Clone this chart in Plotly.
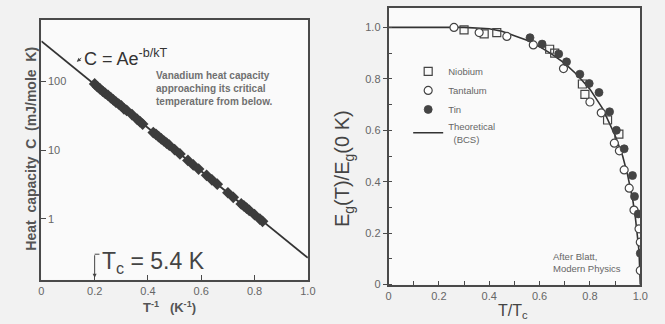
import math
import plotly.graph_objects as go

# ---------------- data: left panel (vanadium heat capacity) ----------------
inv_T = [0.20, 0.21, 0.22, 0.23, 0.24, 0.25, 0.26, 0.27, 0.28, 0.29, 0.30, 0.31,
         0.32, 0.34, 0.36, 0.37, 0.38, 0.42, 0.43, 0.44, 0.45, 0.46, 0.47, 0.48,
         0.50, 0.52, 0.55, 0.57, 0.59, 0.62, 0.64, 0.66, 0.70, 0.72, 0.75, 0.76,
         0.77, 0.78, 0.80, 0.82, 0.83]
heat_cap = [92, 84, 78, 72, 67, 63, 58, 54, 50, 47, 44, 40,
            38, 33, 28, 26, 24, 18, 17, 15.7, 14.6, 13.6, 12.7, 11.8,
            10.2, 8.8, 7.1, 6.1, 5.3, 4.3, 3.7, 3.2, 2.4, 2.06, 1.65, 1.54,
            1.43, 1.33, 1.15, 0.99, 0.92]
fit_x = [0.0, 1.0]
fit_y = [385, 0.27]

# ---------------- data: right panel (energy gap) ----------------
nb_x = [0.30, 0.38, 0.43, 0.64, 0.66, 0.77, 0.78, 0.87, 0.915]
nb_y = [0.99, 0.975, 0.98, 0.915, 0.90, 0.78, 0.74, 0.64, 0.585]

ta_x = [0.26, 0.36, 0.47, 0.575, 0.695, 0.80, 0.845, 0.897, 0.917, 0.936,
        0.956, 0.975, 0.995, 1.0, 1.0]
ta_y = [1.0, 0.98, 0.965, 0.932, 0.84, 0.71, 0.668, 0.55, 0.52, 0.446,
        0.375, 0.29, 0.217, 0.165, 0.055]

sn_x = [0.562, 0.61, 0.676, 0.707, 0.76, 0.797, 0.836, 0.878, 0.905, 0.936,
        0.969, 0.977, 0.992, 1.0]
sn_y = [0.96, 0.935, 0.897, 0.866, 0.818, 0.782, 0.747, 0.672, 0.60, 0.528,
        0.424, 0.343, 0.275, 0.122]

bcs_x = [0.0, 0.3, 0.4, 0.45, 0.5, 0.55, 0.6, 0.65, 0.7, 0.75, 0.8, 0.85,
         0.9, 0.93, 0.95, 0.97, 0.98, 0.99, 0.995, 1.0]
bcs_y = [1.0, 1.0, 0.995, 0.985, 0.968, 0.95, 0.925, 0.895, 0.86, 0.815,
         0.76, 0.685, 0.58, 0.5, 0.425, 0.33, 0.265, 0.185, 0.13, 0.0]

x_ticks = [0, 0.2, 0.4, 0.6, 0.8, 1.0]
x_tick_text = ["0", "0.2", "0.4", "0.6", "0.8", "1.0"]
hc_ticks = [1, 10, 100]
hc_tick_text = ["1", "10", "100"]
gap_ticks = [0, 0.2, 0.4, 0.6, 0.8, 1.0]
gap_tick_text = ["0", "0.2", "0.4", "0.6", "0.8", "1.0"]

W, H = 665, 324
def X(px):
    return px / W
def Y(py):
    return 1 - py / H

FONT = "Liberation Sans, Arial, sans-serif"
AX = "#4a4a4a"
TXT = "#666666"
MK = "#3c3c3c"

fig = go.Figure()

# left panel
fig.add_trace(go.Scatter(x=fit_x, y=fit_y, mode="lines", xaxis="x", yaxis="y",
                         line=dict(color="#333333", width=1.8), showlegend=False))
fig.add_trace(go.Scatter(x=inv_T, y=heat_cap, mode="markers", xaxis="x", yaxis="y",
                         marker=dict(symbol="diamond", size=9, color=MK,
                                     line=dict(width=0)), showlegend=False))

# right panel (line first so the markers sit on top)
fig.add_trace(go.Scatter(x=bcs_x, y=bcs_y, mode="lines", xaxis="x2", yaxis="y2",
                         name="Theoretical<br>  (BCS)", legendrank=4,
                         line=dict(color="#333333", width=1.6)))
fig.add_trace(go.Scatter(x=nb_x, y=nb_y, mode="markers", xaxis="x2", yaxis="y2",
                         name="Niobium", legendrank=1,
                         marker=dict(symbol="square-open", size=8, color="#444444",
                                     line=dict(width=1.2))))
fig.add_trace(go.Scatter(x=ta_x, y=ta_y, mode="markers", xaxis="x2", yaxis="y2",
                         name="Tantalum", legendrank=2,
                         marker=dict(symbol="circle", size=8, color="white",
                                     line=dict(width=1.2, color="#444444"))))
fig.add_trace(go.Scatter(x=sn_x, y=sn_y, mode="markers", xaxis="x2", yaxis="y2",
                         name="Tin", legendrank=3,
                         marker=dict(symbol="circle", size=8, color="#444444",
                                     line=dict(width=0.8, color="#444444"))))

axis_common = dict(showline=True, linecolor=AX, linewidth=1.6, mirror=True,
                   showgrid=False, zeroline=False,
                   tickfont=dict(family=FONT, size=11, color=TXT),
                   tickcolor=AX)

fig.update_layout(
    width=W, height=H,
    margin=dict(l=0, r=0, t=0, b=0),
    paper_bgcolor="#f2f2f2",
    plot_bgcolor="#fafafa",
    font=dict(family=FONT, color="#444444"),
    xaxis=dict(domain=[X(39), X(310)], range=[0, 1], anchor="y",
               tickvals=x_ticks, ticktext=x_tick_text,
               ticks="inside", ticklen=5, tickwidth=1.2, **axis_common),
    yaxis=dict(domain=[Y(285), Y(20)], type="log", range=[-0.886, 2.9], anchor="x",
               tickvals=hc_ticks, showticklabels=False,
               ticks="inside", ticklen=5, tickwidth=1.2, **axis_common),
    xaxis2=dict(domain=[X(392), X(648)], range=[0, 1], anchor="y2",
                tickvals=x_ticks, ticktext=x_tick_text,
                ticks="inside", ticklen=4, tickwidth=1.2,
                minor=dict(dtick=0.1, tick0=0, ticks="inside", ticklen=4,
                           tickcolor=AX, tickwidth=1),
                **axis_common),
    yaxis2=dict(domain=[Y(290), Y(8)], range=[0, 1.076], anchor="x2",
                tickvals=gap_ticks, ticktext=gap_tick_text,
                ticks="outside", ticklen=4, tickwidth=1.2,
                minor=dict(dtick=0.1, tick0=0, ticks="inside", ticklen=4,
                           tickcolor=AX, tickwidth=1),
                **axis_common),
    legend=dict(x=X(412), y=Y(58), xanchor="left", yanchor="top",
                bgcolor="rgba(0,0,0,0)", borderwidth=0,
                font=dict(family=FONT, size=9.5, color="#666666"),
                itemwidth=30, tracegroupgap=0),
)

def note(px, py, text, size, color, xanchor="left", angle=0, align="left"):
    return dict(x=X(px), y=Y(py), xref="paper", yref="paper",
                xanchor=xanchor, yanchor="middle", align=align,
                textangle=angle, text=text, showarrow=False,
                font=dict(family=FONT, size=size, color=color))

ann = []
# left y tick labels (drawn inside the frame, as in the original)
for v, t in zip(hc_ticks, hc_tick_text):
    ann.append(dict(x=X(44), y=math.log10(v), xref="paper", yref="y",
                    xanchor="left", yanchor="middle", text=t, showarrow=False,
                    font=dict(family=FONT, size=11, color=TXT)))
# left titles
ann.append(note(29, 152, "<b>Heat  capacity  C  (mJ/mole  K)</b>", 14, "#555555",
                xanchor="center", angle=-90))
ann.append(note(169, 313, "<b>T<sup>-1</sup>   (K<sup>-1</sup>)</b>", 13, "#555555",
                xanchor="center"))
# formula
ann.append(note(80, 59, "C = Ae<sup>-b/kT</sup>", 18, "#333333"))
ann.append(dict(x=X(75), y=Y(63), xref="paper", yref="paper", text="",
                showarrow=True, ax=6, ay=-5, arrowhead=2, arrowsize=0.8,
                arrowwidth=1, arrowcolor="#444444"))
# vanadium note
ann.append(note(154, 90, "<b>Vanadium heat capacity<br>approaching its critical<br>temperature from below.</b>",
                10, "#707070"))
# Tc marker
ann.append(note(99, 267, "T<sub>c</sub> = 5.4 K", 23, "#444444"))
ann.append(dict(x=0.2, y=Y(283), xref="x", yref="paper", text="",
                showarrow=True, ax=0, ay=-24, arrowhead=2, arrowsize=0.8,
                arrowwidth=1, arrowcolor="#444444"))
# right titles
ann.append(note(347, 172, "E<sub>g</sub>(T)/E<sub>g</sub>(0 K)", 20, "#444444",
                xanchor="center", angle=-90))
ann.append(note(519, 317, "T/T<sub>c</sub>", 16, "#444444", xanchor="center"))
ann.append(note(557, 267, "After Blatt,<br>Modern Physics", 9.5, "#666666"))
fig.update_layout(annotations=ann)

fig.add_shape(type="line", xref="x", yref="paper", x0=0.2, x1=0.218,
              y0=Y(259), y1=Y(259), line=dict(color="#444444", width=1))

fig.write_html("out.html", config={"displayModeBar": False},
               post_script="document.body.style.margin='0';document.body.style.padding='0';")
